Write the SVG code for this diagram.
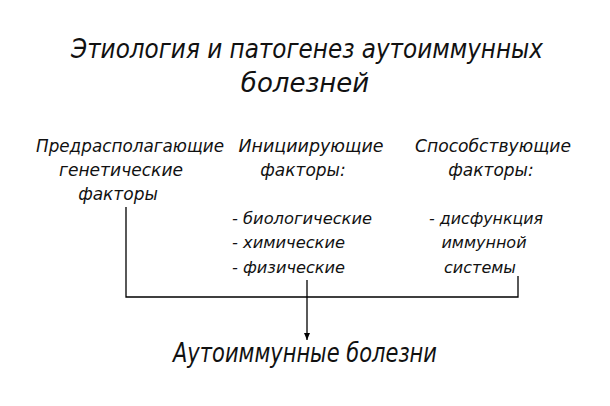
<svg xmlns="http://www.w3.org/2000/svg" width="610" height="406" viewBox="0 0 610 406">
<style>
text{font-family:"DejaVu Sans","Liberation Sans",sans-serif;font-style:italic;fill:#111;text-anchor:middle}
.t{font-size:26px}.h{font-size:17px}.s{font-size:16px}.l{text-anchor:start}
.c{fill:none;stroke:#000;stroke-width:1.3}
</style>
<defs><marker id="a" markerWidth="8" markerHeight="8" refX="7" refY="4" orient="auto" markerUnits="userSpaceOnUse"><path d="M0,1 L7,4 L0,7 Z" fill="#000"/></marker></defs>
<rect width="610" height="406" fill="#fff"/>
<g id="title"><text class="t" x="307" y="58" textLength="472" lengthAdjust="spacingAndGlyphs">Этиология и патогенез аутоиммунных</text><text class="t" x="305" y="92">болезней</text></g>
<g id="n1"><text class="h" x="130" y="152" textLength="188" lengthAdjust="spacingAndGlyphs">Предрасполагающие</text><text class="h" x="121" y="176" textLength="124" lengthAdjust="spacingAndGlyphs">генетические</text><text class="h" x="118" y="200">факторы</text></g>
<g id="n2"><text class="h" x="311" y="152" textLength="145" lengthAdjust="spacingAndGlyphs">Инициирующие</text><text class="h" x="303" y="176">факторы:</text>
<text class="s l" x="232" y="224" textLength="140" lengthAdjust="spacingAndGlyphs">- биологические</text><text class="s l" x="232" y="248" textLength="113" lengthAdjust="spacingAndGlyphs">- химические</text><text class="s l" x="232" y="273" textLength="113" lengthAdjust="spacingAndGlyphs">- физические</text></g>
<g id="n3"><text class="h" x="493" y="152" textLength="156" lengthAdjust="spacingAndGlyphs">Способствующие</text><text class="h" x="491" y="176">факторы:</text>
<text class="s" x="486" y="224" textLength="114" lengthAdjust="spacingAndGlyphs">- дисфункция</text><text class="s" x="484" y="248">иммунной</text><text class="s" x="480" y="273">системы</text></g>
<g id="n4"><text class="t" x="305" y="362" textLength="264" lengthAdjust="spacingAndGlyphs">Аутоиммунные болезни</text></g>
<g id="connectors"><path class="c" d="M126,207 V297 H518 V276"/><path class="c" d="M307,280 V340" marker-end="url(#a)"/></g>
</svg>
